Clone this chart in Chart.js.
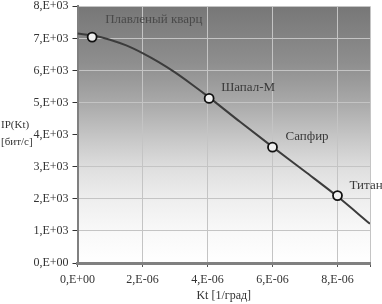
<!DOCTYPE html>
<html>
<head>
<meta charset="utf-8">
<script src="https://cdn.jsdelivr.net/npm/chart.js@4/dist/chart.umd.min.js"></script>
<style>
  html, body { margin: 0; padding: 0; background: #fff; }
  #wrap { width: 382px; height: 304px; }
</style>
</head>
<body>
<div id="wrap"><canvas id="chart" width="382" height="304"></canvas></div>
<script>
// Data
const curveX = [0, 0.5e-6, 1e-6, 1.5e-6, 2e-6, 2.5e-6, 3e-6, 3.5e-6, 4e-6, 5e-6, 6e-6, 7e-6, 8e-6, 9e-6];
const curveY = [7150, 7090, 6960, 6780, 6540, 6260, 5940, 5580, 5200, 4400, 3620, 2850, 2070, 1220];

const materials = ['Плавленый кварц', 'Шапал-М', 'Сапфир', 'Титан'];
const materialX = [0.45e-6, 4.05e-6, 6e-6, 8e-6];
const materialY = [7040, 5130, 3610, 2100];

const xTickValues = [0, 2e-6, 4e-6, 6e-6, 8e-6, 9e-6];
const xTickLabels = ['0,E+00', '2,E-06', '4,E-06', '6,E-06', '8,E-06', ''];
const yTickLabels = ['0,E+00', '1,E+03', '2,E+03', '3,E+03', '4,E+03', '5,E+03', '6,E+03', '7,E+03', '8,E+03'];

const xTitle = 'Kt [1/град]';
const yTitle = ['IP(Kt)', '[бит/с]'];

// label offsets from their points (px)
const labelOffsets = [[13, -18], [12, -11], [13, -11], [12, -10]];

const serif = '"Liberation Serif", "DejaVu Serif", serif';

const bgPlugin = {
    id: 'bg',
    beforeDraw(chart) {
        const { ctx, chartArea: a } = chart;
        const g = ctx.createLinearGradient(0, a.top, 0, a.bottom);
        g.addColorStop(0, '#777777');
        g.addColorStop(0.22, '#8e8e8e');
        g.addColorStop(0.37, '#a8a8a8');
        g.addColorStop(0.52, '#c8c8c8');
        g.addColorStop(0.64, '#e0e0e0');
        g.addColorStop(0.76, '#efefef');
        g.addColorStop(0.87, '#f8f8f8');
        g.addColorStop(1, '#ffffff');
        ctx.save();
        ctx.fillStyle = g;
        ctx.fillRect(a.left, a.top, a.right - a.left, a.bottom - a.top);
        ctx.restore();
    }
};

const textPlugin = {
    id: 'texts',
    afterDraw(chart) {
        const { ctx, chartArea: a } = chart;
        const xs = chart.scales.x, ys = chart.scales.y;
        ctx.save();
        ctx.textBaseline = 'middle';

        // point labels
        ctx.font = '13px ' + serif;
        ctx.textAlign = 'left';
        materials.forEach((name, i) => {
            const px = xs.getPixelForValue(materialX[i]);
            const py = ys.getPixelForValue(materialY[i]);
            ctx.fillStyle = i === 0 ? '#4a4a4a' : '#3a3a3a';
            ctx.fillText(name, px + labelOffsets[i][0], py + labelOffsets[i][1]);
        });

        // axis titles
        ctx.fillStyle = '#333';
        ctx.font = '12px ' + serif;
        ctx.textAlign = 'center';
        ctx.fillText(xTitle, (a.left + a.right) / 2, 296);
        ctx.font = '11px ' + serif;
        ctx.textAlign = 'left';
        ctx.fillText(yTitle[0], 1, 125);
        ctx.fillText(yTitle[1], 1, 142);
        ctx.restore();
    }
};

new Chart(document.getElementById('chart'), {
    type: 'scatter',
    data: {
        datasets: [
            {
                data: curveX.map((x, i) => ({ x: x, y: curveY[i] })),
                showLine: true,
                borderColor: '#3c3c3c',
                borderWidth: 2,
                pointRadius: 0,
                cubicInterpolationMode: 'monotone',
                order: 2
            },
            {
                data: materialX.map((x, i) => ({ x: x, y: materialY[i] })),
                showLine: false,
                pointRadius: 4.5,
                pointBackgroundColor: '#f0f0f0',
                pointBorderColor: '#111',
                pointBorderWidth: 1.8,
                order: 1
            }
        ]
    },
    options: {
        responsive: false,
        animation: false,
        devicePixelRatio: 1,
        layout: { padding: { top: 4, right: 12, left: 0, bottom: 0 } },
        plugins: {
            legend: { display: false },
            tooltip: { enabled: false }
        },
        scales: {
            x: {
                type: 'linear',
                min: 0,
                max: 9e-6,
                afterBuildTicks: s => { s.ticks = xTickValues.map(v => ({ value: v })); },
                afterFit: s => { s.height = 41; s.paddingLeft = 0; s.paddingRight = 0; },
                ticks: {
                    autoSkip: false,
                    maxRotation: 0,
                    padding: 6,
                    color: '#333',
                    font: { family: serif, size: 12 },
                    callback: (v, i) => xTickLabels[i]
                },
                grid: { color: '#c4c4c4', tickColor: '#555', tickLength: 4 },
                border: { color: '#808080', width: 3 }
            },
            y: {
                min: 0,
                max: 8000,
                afterFit: s => { s.width = 77.5; s.paddingTop = 0; s.paddingBottom = 0; },
                ticks: {
                    stepSize: 1000,
                    padding: 4,
                    color: '#333',
                    font: { family: serif, size: 12 },
                    callback: (v, i) => yTickLabels[i]
                },
                grid: { color: '#c4c4c4', tickColor: '#333', tickLength: 5 },
                border: { color: '#808080', width: 2 }
            }
        }
    },
    plugins: [bgPlugin, textPlugin]
});
</script>
</body>
</html>
